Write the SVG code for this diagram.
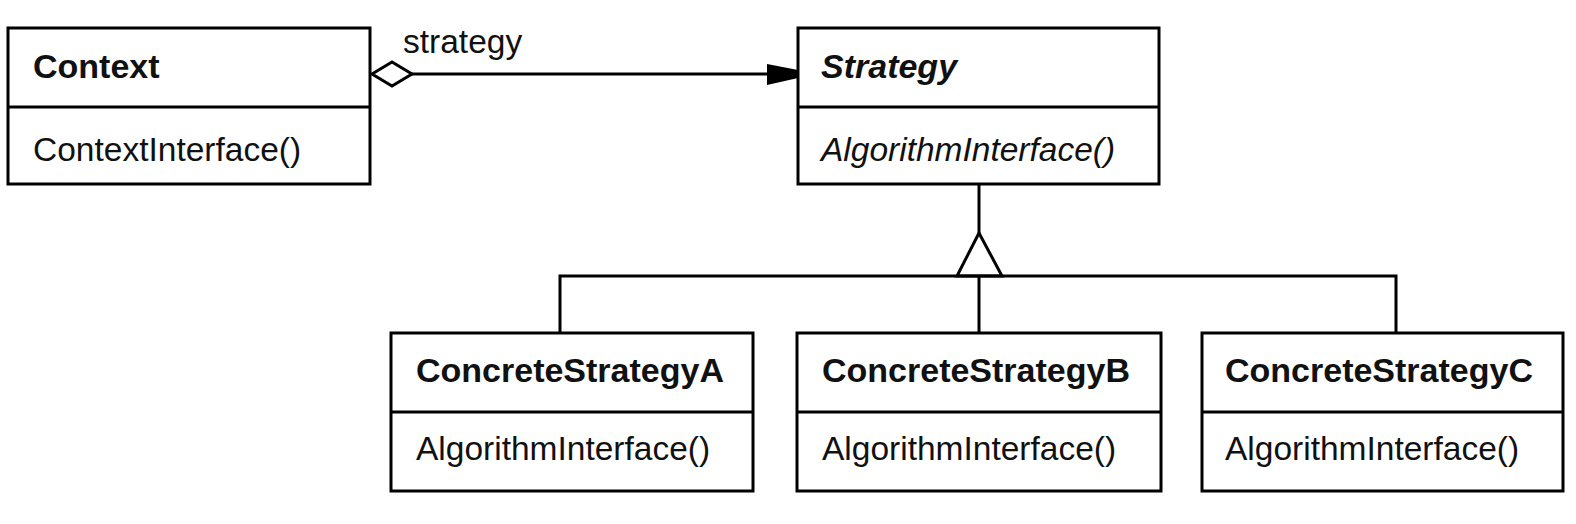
<svg xmlns="http://www.w3.org/2000/svg" width="1576" height="524" viewBox="0 0 1576 524">
<style>
.box{fill:#fff;stroke:#000;stroke-width:3}
.div{stroke:#000;stroke-width:3}
.t{font-family:"Liberation Sans",Arial,sans-serif;font-size:33.5px;fill:#111}
.b{font-weight:bold;font-size:34px}
.i{font-style:italic}
.ln{fill:none;stroke:#000;stroke-width:3}
</style>
<rect width="1576" height="524" fill="#fff"/>
<g id="connectors">
<line class="ln" x1="412" y1="74" x2="770" y2="74"/>
<polygon points="372,74 392,62 412,74 392,86" fill="#fff" stroke="#000" stroke-width="3"/>
<polygon points="767,64 798,70 798,78 767,85" fill="#000"/>
<text class="t" x="403" y="53">strategy</text>
<line class="ln" x1="979" y1="184" x2="979" y2="233"/>
<polygon points="979,233 957,276 1002,276" fill="#fff" stroke="#000" stroke-width="3"/>
<polyline class="ln" points="560,333 560,276 1396,276 1396,333"/>
<line class="ln" x1="979" y1="276" x2="979" y2="333"/>
</g>
<g id="Context">
<rect class="box" x="8" y="28" width="362" height="156"/>
<line class="div" x1="8" y1="107" x2="370" y2="107"/>
<text class="t b" x="33" y="78">Context</text>
<text class="t" x="33" y="161">ContextInterface()</text>
</g>
<g id="Strategy">
<rect class="box" x="798" y="28" width="361" height="156"/>
<line class="div" x1="798" y1="107" x2="1159" y2="107"/>
<text class="t b i" x="821" y="78">Strategy</text>
<text class="t i" x="821" y="161">AlgorithmInterface()</text>
</g>
<g id="ConcreteStrategyA">
<rect class="box" x="391" y="333" width="362" height="158"/>
<line class="div" x1="391" y1="412" x2="753" y2="412"/>
<text class="t b" x="416" y="382">ConcreteStrategyA</text>
<text class="t" x="416" y="460">AlgorithmInterface()</text>
</g>
<g id="ConcreteStrategyB">
<rect class="box" x="797" y="333" width="364" height="158"/>
<line class="div" x1="797" y1="412" x2="1161" y2="412"/>
<text class="t b" x="822" y="382">ConcreteStrategyB</text>
<text class="t" x="822" y="460">AlgorithmInterface()</text>
</g>
<g id="ConcreteStrategyC">
<rect class="box" x="1202" y="333" width="361" height="158"/>
<line class="div" x1="1202" y1="412" x2="1563" y2="412"/>
<text class="t b" x="1225" y="382">ConcreteStrategyC</text>
<text class="t" x="1225" y="460">AlgorithmInterface()</text>
</g>
</svg>
